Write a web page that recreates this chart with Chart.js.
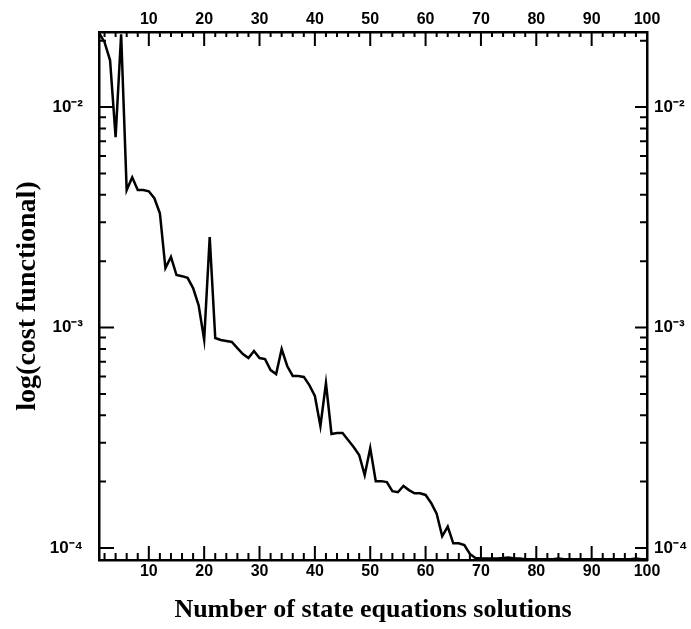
<!DOCTYPE html>
<html>
<head>
<meta charset="utf-8">
<script src="https://cdn.jsdelivr.net/npm/chart.js@4"></script>
<style>
  html, body { margin: 0; padding: 0; background: #fff; }
  #wrap { width: 691px; height: 629px; }
</style>
</head>
<body>
<div id="wrap"><canvas id="canvas" width="691" height="629"></canvas></div>
<script>
// iteration number (x) and cost functional (y, log scale)
const iterations = Array.from({ length: 100 }, (_, i) => i + 1);
const cost = [
  2.17e-2, 1.97e-2, 1.63e-2, 7.3e-3, 2.14e-2, 4.2e-3, 4.8e-3, 4.2e-3, 4.2e-3, 4.15e-3,
  3.86e-3, 3.3e-3, 1.86e-3, 2.09e-3, 1.73e-3, 1.71e-3, 1.68e-3, 1.51e-3, 1.26e-3, 8.8e-4,
  2.57e-3, 8.96e-4, 8.78e-4, 8.69e-4, 8.6e-4, 8.07e-4, 7.58e-4, 7.27e-4, 7.82e-4, 7.27e-4,
  7.19e-4, 6.41e-4, 6.15e-4, 7.99e-4, 6.69e-4, 6.03e-4, 6.03e-4, 5.97e-4, 5.48e-4, 4.89e-4,
  3.57e-4, 5.6e-4, 3.29e-4, 3.32e-4, 3.32e-4, 3.09e-4, 2.87e-4, 2.64e-4, 2.14e-4, 2.84e-4,
  2.01e-4, 2.01e-4, 1.99e-4, 1.81e-4, 1.79e-4, 1.91e-4, 1.83e-4, 1.77e-4, 1.77e-4, 1.74e-4,
  1.6e-4, 1.43e-4, 1.13e-4, 1.25e-4, 1.05e-4, 1.05e-4, 1.03e-4, 9.4e-5, 9.0e-5, 8.95e-5,
  8.95e-5, 8.95e-5, 8.95e-5, 9.0e-5, 9.05e-5, 8.95e-5, 8.95e-5, 8.9e-5, 8.9e-5, 8.9e-5,
  8.9e-5, 8.9e-5, 8.9e-5, 8.95e-5, 8.9e-5, 8.9e-5, 8.9e-5, 8.9e-5, 8.9e-5, 8.9e-5,
  8.9e-5, 8.9e-5, 8.9e-5, 8.9e-5, 8.9e-5, 8.9e-5, 8.9e-5, 8.95e-5, 8.9e-5, 8.9e-5
];
const xTicks = [2, 4, 6, 8, 10, 12, 14, 16, 18, 20, 22, 24, 26, 28, 30, 32, 34, 36, 38, 40,
  42, 44, 46, 48, 50, 52, 54, 56, 58, 60, 62, 64, 66, 68, 70, 72, 74, 76, 78, 80,
  82, 84, 86, 88, 90, 92, 94, 96, 98, 100];
const yTicks = [
  1e-4, 2e-4, 3e-4, 4e-4, 5e-4, 6e-4, 7e-4, 8e-4, 9e-4,
  1e-3, 2e-3, 3e-3, 4e-3, 5e-3, 6e-3, 7e-3, 8e-3, 9e-3,
  1e-2, 2e-2
];
const yLabels = { '-4': '10\u207B\u2074', '-3': '10\u207B\u00B3', '-2': '10\u207B\u00B2' };

const X_MIN = 1, X_MAX = 100;
const Y_MIN = 8.82e-5, Y_MAX = 2.19e-2;

const tickFont = { family: 'Liberation Sans, Arial, sans-serif', size: 16, weight: 'bold' };
const yTickFont = { family: 'Liberation Sans, Arial, sans-serif', size: 17, weight: 'bold' };
const xTitleFont = { family: 'Liberation Serif, Times New Roman, serif', size: 26, weight: 'bold' };
const yTitleFont = { family: 'Liberation Serif, Times New Roman, serif', size: 28, weight: 'bold' };

function isDecade(v) {
  const e = Math.log10(v);
  return Math.abs(e - Math.round(e)) < 1e-9;
}

function yLabel(v) {
  if (!isDecade(v)) return '';
  return yLabels[String(Math.round(Math.log10(v)))] || '';
}

function xLabel(v) {
  return v % 10 === 0 ? String(v) : '';
}

// tick marks pointing into the plot area
const inwardTicks = {
  id: 'inwardTicks',
  afterDatasetsDraw(chart) {
    const ctx = chart.ctx;
    const a = chart.chartArea;
    ctx.save();
    ctx.strokeStyle = '#000';
    ctx.lineWidth = 2;
    ctx.beginPath();
    xTicks.forEach(v => {
      const px = chart.scales.x.getPixelForValue(v);
      const major = v % 10 === 0;
      ctx.moveTo(px, a.bottom);
      ctx.lineTo(px, a.bottom - (major ? 14 : 7));
      ctx.moveTo(px, a.top);
      ctx.lineTo(px, a.top + (major ? 14 : 5));
    });
    yTicks.forEach(v => {
      const py = chart.scales.y.getPixelForValue(v);
      const major = isDecade(v);
      ctx.moveTo(a.left, py);
      ctx.lineTo(a.left + (major ? 15 : 7), py);
      ctx.moveTo(a.right, py);
      ctx.lineTo(a.right - (major ? 12 : 7), py);
    });
    ctx.stroke();
    ctx.restore();
  }
};

const ctx = document.getElementById('canvas').getContext('2d');
new Chart(ctx, {
  type: 'line',
  data: {
    labels: iterations,
    datasets: [{
      data: iterations.map((x, i) => ({ x: x, y: cost[i] })),
      borderColor: '#000',
      borderWidth: 2.5,
      pointRadius: 0,
      tension: 0,
      fill: false
    }]
  },
  options: {
    responsive: false,
    animation: false,
    layout: { padding: 0 },
    plugins: { legend: { display: false }, tooltip: { enabled: false } },
    scales: {
      x: {
        type: 'linear', position: 'bottom', min: X_MIN, max: X_MAX,
        afterBuildTicks: s => { s.ticks = xTicks.map(v => ({ value: v })); },
        afterFit: s => { s.height = 69; },
        grid: { display: false, drawTicks: false },
        border: { display: true, color: '#000', width: 2.5 },
        ticks: { callback: xLabel, autoSkip: false, maxRotation: 0, padding: 2, color: '#000', font: tickFont },
        title: { display: true, text: 'Number of state equations solutions', color: '#000', font: xTitleFont, padding: { top: 0, bottom: 3 } }
      },
      x2: {
        type: 'linear', position: 'top', min: X_MIN, max: X_MAX,
        afterBuildTicks: s => { s.ticks = xTicks.map(v => ({ value: v })); },
        afterFit: s => { s.height = 32; },
        grid: { display: false, drawTicks: false },
        border: { display: true, color: '#000', width: 2.5 },
        ticks: { callback: xLabel, autoSkip: false, maxRotation: 0, padding: 3, color: '#000', font: tickFont }
      },
      y: {
        type: 'logarithmic', position: 'left', min: Y_MIN, max: Y_MAX,
        afterBuildTicks: s => { s.ticks = yTicks.map(v => ({ value: v })); },
        afterFit: s => { s.width = 99; },
        grid: { display: false, drawTicks: false },
        border: { display: true, color: '#000', width: 2.5 },
        ticks: { callback: yLabel, autoSkip: false, padding: 16, color: '#000', font: yTickFont },
        title: { display: true, text: 'log(cost functional)', color: '#000', font: yTitleFont, padding: { top: 11, bottom: 0 } }
      },
      y2: {
        type: 'logarithmic', position: 'right', min: Y_MIN, max: Y_MAX,
        afterBuildTicks: s => { s.ticks = yTicks.map(v => ({ value: v })); },
        afterFit: s => { s.width = 44; },
        grid: { display: false, drawTicks: false },
        border: { display: true, color: '#000', width: 2.5 },
        ticks: { callback: yLabel, autoSkip: false, padding: 7, color: '#000', font: yTickFont }
      }
    }
  },
  plugins: [inwardTicks]
});
</script>
</body>
</html>
